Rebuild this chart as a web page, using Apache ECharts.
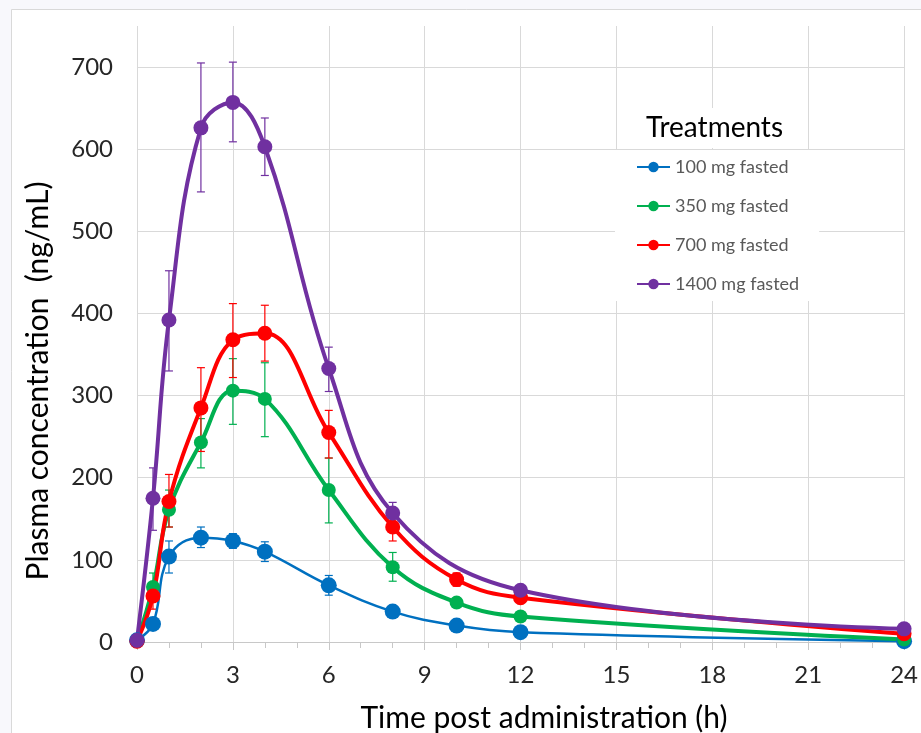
<!DOCTYPE html>
<html>
<head>
<meta charset="utf-8">
<script src="https://cdn.jsdelivr.net/npm/echarts@6/dist/echarts.min.js"></script>
<style>
  body { margin: 0; background: #f8f8fc; }
  #chart { width: 921px; height: 733px; }
</style>
</head>
<body>
<div id="chart"></div>
<script>
// sampling times (h)
const times = [0, 0.5, 1, 2, 3, 4, 6, 8, 10, 12, 24];
const times1400 = [0, 0.5, 1, 2, 3, 4, 6, 8, 12, 24]; // no 10 h point for 1400 mg

const seriesNames = ['100 mg fasted', '350 mg fasted', '700 mg fasted', '1400 mg fasted'];
const seriesColors = ['#0070C0', '#00B050', '#FF0000', '#7030A0'];

// mean concentrations (ng/mL)
const mean100 = [2, 22, 104, 127, 123, 110, 69, 37, 20, 12, 1];
const mean350 = [1, 67, 161, 243, 306, 296, 185, 91, 48, 31, 3];
const mean700 = [1, 56, 171, 285, 368, 376, 255, 140, 76, 54, 10];
const mean1400 = [2, 175, 392, 626, 657, 603, 333, 157, 63, 16];

// error bar bounds (low / high)
const low100 = [null, 18, 84, 115, 114, 98, 57, 32, 16, 9, null];
const high100 = [null, 26, 123, 140, 132, 122, 81, 43, 24, 15, null];
const low350 = [null, 50, 140, 212, 265, 250, 145, 74, 42, 27, null];
const high350 = [null, 84, 185, 272, 345, 340, 224, 109, 54, 35, null];
const low700 = [null, 40, 140, 232, 322, 342, 224, 123, 68, 48, null];
const high700 = [null, 72, 204, 334, 412, 410, 282, 157, 84, 60, null];
const low1400 = [null, 136, 330, 548, 609, 568, 305, 145, 58, null];
const high1400 = [null, 212, 452, 705, 706, 638, 359, 170, 68, null];

const xTicks = [0, 3, 6, 9, 12, 15, 18, 21, 24];

const xTitle = 'Time post administration (h)';
const yTitle = 'Plasma concentration  (ng/mL)';

const font = 'Lato, "Noto Sans", sans-serif';

function pairs(xs, ys) {
  return xs.map((x, i) => [x, ys[i]]);
}

function errData(xs, lo, hi) {
  const out = [];
  xs.forEach((x, i) => {
    if (lo[i] != null && hi[i] != null) out.push([x, lo[i], hi[i]]);
  });
  return out;
}

function errSeries(name, color, data) {
  return {
    name: name,
    type: 'custom',
    data: data,
    encode: { x: 0, y: [1, 2] },
    z: 3,
    renderItem: function (params, api) {
      const x = api.value(0);
      const p1 = api.coord([x, api.value(1)]);
      const p2 = api.coord([x, api.value(2)]);
      const w = 4;
      const style = { stroke: color, lineWidth: 1.2 };
      return {
        type: 'group',
        children: [
          { type: 'line', shape: { x1: p1[0], y1: p1[1], x2: p2[0], y2: p2[1] }, style: style },
          { type: 'line', shape: { x1: p1[0] - w, y1: p1[1], x2: p1[0] + w, y2: p1[1] }, style: style },
          { type: 'line', shape: { x1: p2[0] - w, y1: p2[1], x2: p2[0] + w, y2: p2[1] }, style: style }
        ]
      };
    }
  };
}

function lineSeries(idx, data, width, size) {
  return {
    name: seriesNames[idx],
    type: 'line',
    data: data,
    smooth: 0.4,
    symbol: 'circle',
    symbolSize: size,
    z: 4,
    itemStyle: { color: seriesColors[idx] },
    lineStyle: { color: seriesColors[idx], width: width }
  };
}

const chart = echarts.init(document.getElementById('chart'));

const option = {
  backgroundColor: '#f8f8fc',
  animation: false,
  textStyle: { fontFamily: font },
  graphic: [
    {
      type: 'rect',
      z: -10,
      shape: { x: 11.5, y: 9.5, width: 920, height: 740 },
      style: { fill: '#ffffff', stroke: '#d9d9d9', lineWidth: 1 }
    },
    {
      type: 'text',
      x: 544,
      y: 718,
      style: { text: xTitle, font: '30px ' + font, fill: '#000000', align: 'center', verticalAlign: 'middle' }
    },
    {
      type: 'text',
      x: 38,
      y: 381,
      rotation: Math.PI / 2,
      style: { text: yTitle, font: '30px ' + font, fill: '#000000', align: 'center', verticalAlign: 'middle' }
    }
  ],
  title: {
    text: 'Treatments',
    left: 630,
    top: 108,
    padding: [6, 16, 6, 16],
    backgroundColor: '#ffffff',
    textStyle: { fontFamily: font, fontSize: 28, fontWeight: 'normal', color: '#000000' }
  },
  legend: {
    data: seriesNames,
    orient: 'vertical',
    left: 615,
    top: 150,
    padding: [8, 20, 8, 21],
    itemGap: 21,
    itemWidth: 33,
    itemHeight: 13,
    backgroundColor: '#ffffff',
    textStyle: { fontFamily: font, fontSize: 18, color: '#595959' }
  },
  grid: { left: 137, right: 15, top: 26, bottom: 91 },
  xAxis: {
    type: 'value',
    min: 0,
    max: 24,
    interval: 3,
    axisLine: { show: true, lineStyle: { color: '#c8c8c8', width: 1 } },
    axisTick: { show: true, length: 8, lineStyle: { color: '#c8c8c8' } },
    minorTick: { show: true, splitNumber: 3, length: 6, lineStyle: { color: '#c8c8c8' } },
    axisLabel: {
      margin: 21,
      fontFamily: font,
      fontSize: 24,
      color: '#262626',
      formatter: function (v) { return xTicks.indexOf(v) >= 0 ? String(v) : ''; }
    },
    splitLine: { show: true, lineStyle: { color: '#d9d9d9', width: 1 } }
  },
  yAxis: {
    type: 'value',
    min: 0,
    max: 750,
    interval: 100,
    axisLine: { show: false },
    axisTick: { show: false },
    axisLabel: {
      margin: 24,
      fontFamily: font,
      fontSize: 24,
      color: '#262626',
      showMaxLabel: false
    },
    splitLine: { show: true, showMaxLine: false, lineStyle: { color: '#d9d9d9', width: 1 } }
  },
  series: [
    errSeries('err100', seriesColors[0], errData(times, low100, high100)),
    errSeries('err350', seriesColors[1], errData(times, low350, high350)),
    errSeries('err700', seriesColors[2], errData(times, low700, high700)),
    errSeries('err1400', seriesColors[3], errData(times1400, low1400, high1400)),
    lineSeries(0, pairs(times, mean100), 2.5, 16),
    lineSeries(1, pairs(times, mean350), 4, 14),
    lineSeries(2, pairs(times, mean700), 4, 15),
    lineSeries(3, pairs(times1400, mean1400), 4, 15)
  ]
};

chart.setOption(option);
</script>
</body>
</html>
